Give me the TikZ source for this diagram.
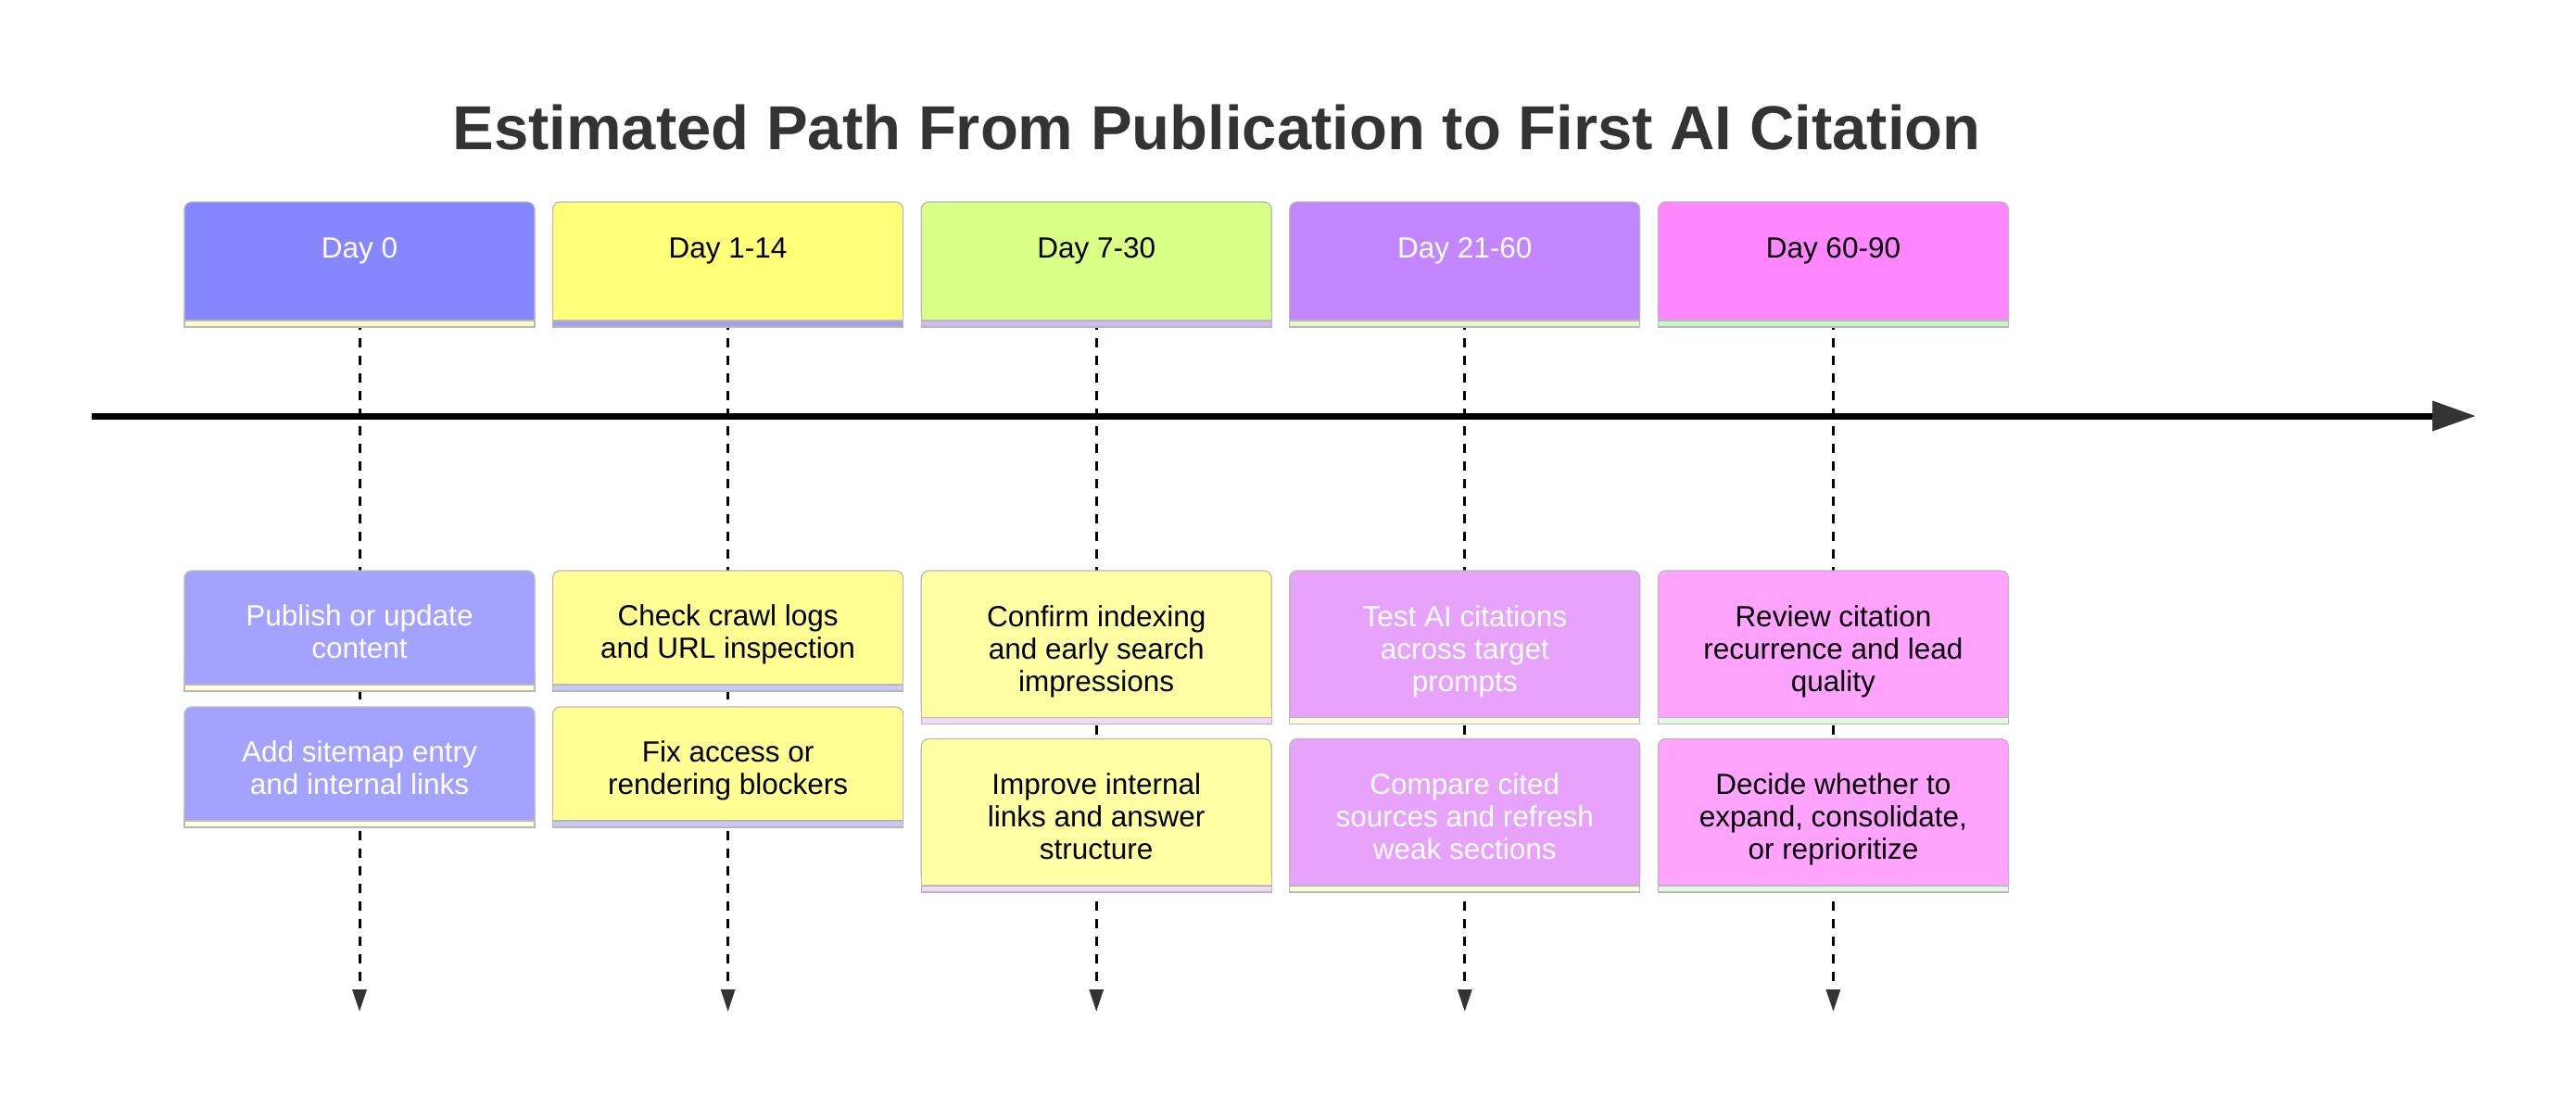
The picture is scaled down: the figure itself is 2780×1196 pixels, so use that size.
\documentclass[tikz,border=0pt]{standalone}
\usepackage{fontspec}
\setmainfont{Liberation Sans}
\usetikzlibrary{arrows.meta,positioning,backgrounds}
\definecolor{Ink}{HTML}{333333}
\definecolor{Edge}{HTML}{B8B8B8}
\definecolor{Head0}{HTML}{8686FF}
\definecolor{Head1}{HTML}{FFFF78}
\definecolor{Head2}{HTML}{D9FF86}
\definecolor{Head3}{HTML}{C386FF}
\definecolor{Head4}{HTML}{FF86FF}
\definecolor{HeadStrip0}{HTML}{FCFCC8}
\definecolor{HeadStrip1}{HTML}{A0A0F2}
\definecolor{HeadStrip2}{HTML}{D2BAF8}
\definecolor{HeadStrip3}{HTML}{E2F9C6}
\definecolor{HeadStrip4}{HTML}{C2F8C2}
\definecolor{Ev0}{HTML}{A3A3FF}
\definecolor{Ev1}{HTML}{FFFF94}
\definecolor{Ev2}{HTML}{FFFFA3}
\definecolor{Ev3}{HTML}{E6A3F9}
\definecolor{Ev4}{HTML}{FFA3FF}
\definecolor{EvStrip0}{HTML}{FFFFDC}
\definecolor{EvStrip1}{HTML}{C9C9F8}
\definecolor{EvStrip2}{HTML}{F3D8F7}
\definecolor{EvStrip3}{HTML}{FDFCDC}
\definecolor{EvStrip4}{HTML}{E2F8E2}

\begin{document}
\begin{tikzpicture}[
      x=1pt,y=1pt,
      node distance=19.6pt,
      head/.style={fill=#1,draw=Edge,line width=1.2pt,rounded corners=8pt,outer sep=0pt,
        minimum width=378pt,inner sep=0pt,text height=60pt,text depth=68pt,
        font=\fontsize{31.5}{35}\selectfont},
      event/.style={fill=#1,draw=Edge,line width=1.2pt,rounded corners=8pt,outer sep=0pt,
        minimum width=378pt,inner sep=0pt,align=center,text height=94.5pt,text depth=28.5pt,
        font=\fontsize{31.5}{35}\selectfont},
      tall/.style={text height=130pt,text depth=28.5pt},
      timeline/.style={line width=7pt,-{Triangle[length=47pt,width=31pt,color=Ink]}},
      guide/.style={line width=3pt,dash pattern=on 10pt off 9pt,
        -{Triangle[length=24pt,width=15pt,color=Ink]}}
    ]
      \useasboundingbox (0,0) rectangle (2780,-1196);
      \node[font=\fontsize{67}{80}\selectfont\bfseries,text=Ink] (title) at (1313,-138)
        {Estimated Path From Publication to First AI Citation};

      \node[head=Head0,text=white] (day0) at (388,-282) {Day 0};
      \node[head=Head1,right=of day0] (day1) {Day 1-14};
      \node[head=Head2,right=of day1] (day2) {Day 7-30};
      \node[head=Head3,right=of day2,text=white] (day3) {Day 21-60};
      \node[head=Head4,right=of day3] (day4) {Day 60-90};

      \node[event=Ev0,text=white,below=270pt of day0] (publish)
        {Publish or update\\content};
      \node[event=Ev0,text=white,below=24pt of publish] (sitemap)
        {Add sitemap entry\\and internal links};
      \node[event=Ev1,below=270pt of day1] (crawl)
        {Check crawl logs\\and URL inspection};
      \node[event=Ev1,below=24pt of crawl] (blockers)
        {Fix access or\\rendering blockers};
      \node[event=Ev2,tall,below=270pt of day2] (indexing)
        {Confirm indexing\\and early search\\impressions};
      \node[event=Ev2,tall,below=23pt of indexing] (structure)
        {Improve internal\\links and answer\\structure};
      \node[event=Ev3,tall,text=white,below=270pt of day3] (testing)
        {Test AI citations\\across target\\prompts};
      \node[event=Ev3,tall,text=white,below=23pt of testing] (refresh)
        {Compare cited\\sources and refresh\\weak sections};
      \node[event=Ev4,tall,below=270pt of day4] (review)
        {Review citation\\recurrence and lead\\quality};
      \node[event=Ev4,tall,below=23pt of review] (decide)
        {Decide whether to\\expand, consolidate,\\or reprioritize};

      % square bottoms and colour strips
      \foreach \n/\c/\s in {day0/Head0/HeadStrip0,day1/Head1/HeadStrip1,day2/Head2/HeadStrip2,
          day3/Head3/HeadStrip3,day4/Head4/HeadStrip4,
          publish/Ev0/EvStrip0,sitemap/Ev0/EvStrip0,crawl/Ev1/EvStrip1,blockers/Ev1/EvStrip1,
          indexing/Ev2/EvStrip2,structure/Ev2/EvStrip2,testing/Ev3/EvStrip3,refresh/Ev3/EvStrip3,
          review/Ev4/EvStrip4,decide/Ev4/EvStrip4}{
        \fill[\c] ([yshift=10pt]\n.south west) rectangle (\n.south east);
        \filldraw[fill=\s,draw=Edge,line width=1.2pt] (\n.south west) rectangle ([yshift=-7pt]\n.south east);
        \draw[Edge,line width=1.2pt] ([yshift=10pt]\n.south west) -- (\n.south west)
          ([yshift=10pt]\n.south east) -- (\n.south east);
      }

      \coordinate (tlstart) at (99,-449);
      \coordinate (tlend) at (2672,-449);
      \draw[timeline] (tlstart) -- (tlend);

      \begin{scope}[on background layer]
        \foreach \n in {0,...,4}{
          \coordinate[below=746pt of day\n] (end\n);
          \draw[guide] (day\n.south) -- (end\n);
        }
      \end{scope}
    \end{tikzpicture}
\end{document}
